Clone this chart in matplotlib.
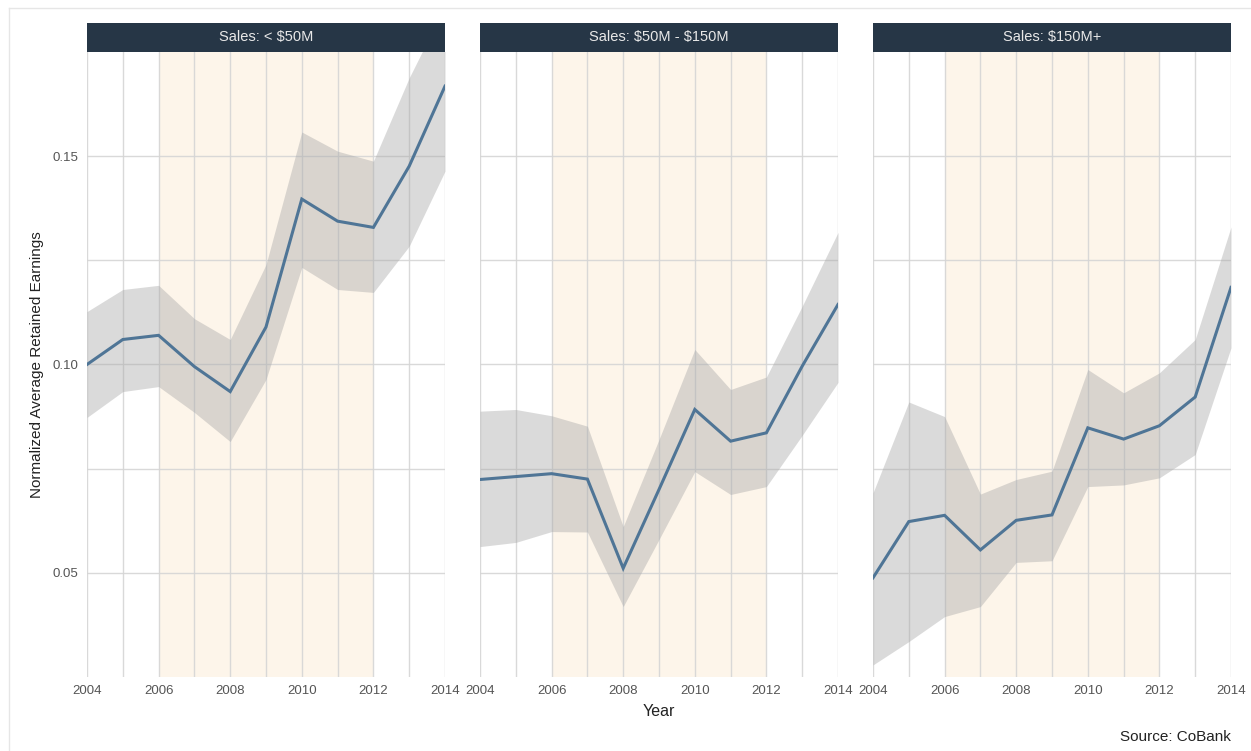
import matplotlib
matplotlib.use("Agg")
import matplotlib.pyplot as plt
from matplotlib.patches import Rectangle
from matplotlib.lines import Line2D
import numpy as np

plt.rcParams['font.family'] = ['Liberation Sans', 'DejaVu Sans']

years = [2004, 2005, 2006, 2007, 2008, 2009, 2010, 2011, 2012, 2013, 2014]
panel_titles = ["Sales: < $50M", "Sales: $50M - $150M", "Sales: $150M+"]

small_mean = [0.100, 0.106, 0.107, 0.0995, 0.0935, 0.109, 0.1397, 0.1344, 0.1329, 0.1476, 0.1668]
small_upper = [0.1127, 0.118, 0.119, 0.111, 0.106, 0.124, 0.1558, 0.1512, 0.1488, 0.1688, 0.186]
small_lower = [0.0873, 0.0935, 0.0947, 0.0885, 0.0815, 0.0964, 0.1233, 0.118, 0.1173, 0.1284, 0.1464]

mid_mean = [0.0724, 0.0731, 0.0738, 0.0725, 0.0511, 0.070, 0.0892, 0.0816, 0.0836, 0.0996, 0.1144]
mid_upper = [0.0888, 0.0892, 0.0877, 0.0852, 0.0611, 0.082, 0.1036, 0.094, 0.097, 0.114, 0.1317]
mid_lower = [0.0563, 0.0573, 0.0599, 0.0598, 0.0419, 0.058, 0.0743, 0.0688, 0.0707, 0.083, 0.0957]

large_mean = [0.0488, 0.0623, 0.0638, 0.0555, 0.0626, 0.0639, 0.0848, 0.0821, 0.0853, 0.0922, 0.1185]
large_upper = [0.0692, 0.091, 0.0875, 0.0689, 0.0724, 0.0744, 0.0988, 0.0932, 0.098, 0.106, 0.133]
large_lower = [0.0279, 0.0335, 0.0395, 0.0419, 0.0525, 0.0529, 0.0707, 0.0711, 0.0728, 0.0784, 0.104]

shade_start, shade_end = 2006, 2012
y_ticks = [0.05, 0.10, 0.15]
y_tick_labels = ["0.05", "0.10", "0.15"]
x_ticks = [2004, 2006, 2008, 2010, 2012, 2014]

series = [(small_mean, small_upper, small_lower),
          (mid_mean, mid_upper, mid_lower),
          (large_mean, large_upper, large_lower)]

W, H = 1251, 751
fig = plt.figure(figsize=(W / 100, H / 100), dpi=100)
fig.patch.set_facecolor("white")

# outer light border (top and left)
fig.add_artist(Line2D([9 / W, 1251 / W], [1 - 8 / H, 1 - 8 / H], color="#e6e6e6", lw=1))
fig.add_artist(Line2D([9 / W, 9 / W], [0, 1 - 8 / H], color="#e6e6e6", lw=1))

lefts = [87, 480, 873]
pw = 358
top_px, bot_px = 52, 677
grid_col = "#d5d5d5"
header_col = "#263646"
line_col = "#4f7596"

for i, (mean, up, lo) in enumerate(series):
    ax = fig.add_axes([lefts[i] / W, 1 - bot_px / H, pw / W, (bot_px - top_px) / H])
    ax.set_xlim(2004, 2014)
    ax.set_ylim(0.025, 0.175)
    for s in ax.spines.values():
        s.set_visible(False)
    ax.set_facecolor("white")
    ax.axvspan(shade_start, shade_end, color="#fbe3c5", alpha=0.35, lw=0, zorder=1)
    for yv in [0.05, 0.075, 0.10, 0.125, 0.15]:
        ax.axhline(yv, color=grid_col, lw=1.0, zorder=2, alpha=0.9)
    for xv in years:
        ax.axvline(xv, color=grid_col, lw=1.0, zorder=2, alpha=0.9)
    ax.fill_between(years, lo, up, color="#a8a8a8", alpha=0.42, lw=0, zorder=3)
    ax.plot(years, mean, color=line_col, lw=2.2, zorder=4, solid_joinstyle="miter")
    ax.set_xticks(x_ticks)
    ax.set_xticklabels([str(x) for x in x_ticks])
    ax.tick_params(axis="both", length=0, labelsize=9.5, labelcolor="#555555", pad=6)
    if i == 0:
        ax.set_yticks(y_ticks)
        ax.set_yticklabels(y_tick_labels)
        ax.set_ylabel("Normalized Average Retained Earnings", fontsize=11, color="#222222", labelpad=6)
    else:
        ax.set_yticks([])
    fig.add_artist(Rectangle((lefts[i] / W, 1 - top_px / H), pw / W, 29 / H,
                             transform=fig.transFigure, facecolor=header_col, edgecolor="none"))
    fig.text((lefts[i] + pw / 2) / W, 1 - (23 + 14.5) / H, panel_titles[i].replace("$", r"\$"),
             ha="center", va="center", color="#e8e8e8", fontsize=10.5)

fig.text((480 + pw / 2) / W, 1 - 712 / H, "Year", ha="center", va="center", fontsize=11.5, color="#222222")
fig.text(1231 / W, 1 - 737 / H, "Source: CoBank", ha="right", va="center", fontsize=11, color="#222222")

fig.savefig("out.png", dpi=100, facecolor="white")
